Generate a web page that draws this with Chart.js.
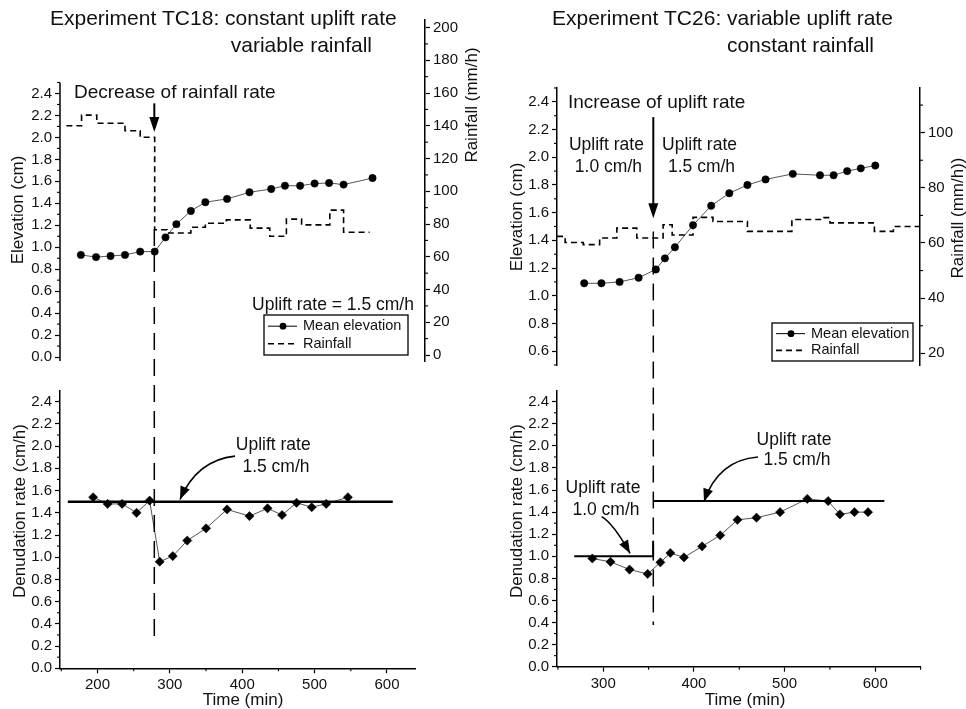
<!DOCTYPE html>
<html>
<head>
<meta charset="utf-8">
<script src="https://cdn.jsdelivr.net/npm/chart.js@4.4.1/dist/chart.umd.min.js"></script>
<style>
  body { margin: 0; background: #fff; width: 966px; height: 709px; overflow: hidden; position: relative; }
  canvas { position: absolute; left: 0; top: 0; }
</style>
</head>
<body>
<canvas id="tl" width="966" height="709"></canvas>
<canvas id="bl" width="966" height="709"></canvas>
<canvas id="tr" width="966" height="709"></canvas>
<canvas id="br" width="966" height="709"></canvas>
<script>
var FONT = '"Liberation Sans", Arial, Helvetica, sans-serif';

// Experiment TC18 : constant uplift, variable rainfall
var tc18Time = [177, 198, 218, 238, 259, 279, 294, 309, 329, 349, 379, 410, 440, 459, 480, 500, 520, 540, 580];
var tc18Elevation = [0.93, 0.91, 0.92, 0.93, 0.96, 0.96, 1.09, 1.21, 1.33, 1.41, 1.44, 1.50, 1.53, 1.56, 1.56, 1.58, 1.585, 1.57, 1.63];
var tc18RainTime = [157, 178, 199, 238, 259, 279, 296, 329, 349, 378, 411, 438, 461, 482, 521, 540, 576];
var tc18Rain = [140, 146.5, 141.5, 137, 133, 76.5, 74.5, 78, 80.5, 82.5, 77.5, 72.5, 83, 79.5, 88.5, 75, 75];
var tc18DenTime = [194, 214, 234, 254, 272, 286, 304, 324, 350, 379, 410, 435, 455, 475, 496, 516, 546];
var tc18Denudation = [1.54, 1.48, 1.48, 1.40, 1.51, 0.96, 1.01, 1.15, 1.26, 1.43, 1.37, 1.44, 1.38, 1.49, 1.45, 1.48, 1.54];
var tc18UpliftTime = [159, 608];
var tc18Uplift = [1.5, 1.5];
var tc18Event = 278.5;

// Experiment TC26 : variable uplift, constant rainfall
var tc26Time = [279, 298, 318, 339, 358, 368, 379, 399, 419, 439, 459, 479, 509, 539, 554, 569, 584, 600];
var tc26Elevation = [1.09, 1.09, 1.10, 1.13, 1.19, 1.27, 1.35, 1.51, 1.65, 1.74, 1.80, 1.84, 1.88, 1.87, 1.87, 1.90, 1.92, 1.94];
var tc26RainTime = [249, 258, 278, 296, 315, 337, 366, 376, 399, 421, 459, 508, 541, 550, 599, 620, 650];
var tc26Rain = [62.4, 60.2, 59.4, 61.8, 65.4, 61.8, 66.6, 62.9, 69.3, 67.8, 64.2, 68.5, 69.2, 67.3, 64.2, 66.0, 66.0];
var tc26DenTime = [288, 308, 329, 349, 363, 374, 389, 409, 429, 448, 469, 495, 525, 548, 561, 577, 592];
var tc26Denudation = [0.98, 0.95, 0.88, 0.84, 0.945, 1.03, 0.99, 1.09, 1.19, 1.33, 1.35, 1.40, 1.52, 1.50, 1.38, 1.40, 1.40];
var tc26LowTime = [268, 355, 355];
var tc26Low = [1.0, 1.0, 1.14];
var tc26HighTime = [355, 610];
var tc26High = [1.5, 1.5];
var tc26Event = 355.2;

// tick labels
var elevTicks = [0, 0.2, 0.4, 0.6, 0.8, 1.0, 1.2, 1.4, 1.6, 1.8, 2.0, 2.2, 2.4];
var elevTicks26 = [0.6, 0.8, 1.0, 1.2, 1.4, 1.6, 1.8, 2.0, 2.2, 2.4];
var rainTicks18 = [0, 20, 40, 60, 80, 100, 120, 140, 160, 180, 200];
var rainTicks26 = [20, 40, 60, 80, 100];
var timeTicks18 = [200, 300, 400, 500, 600];
var timeTicks26 = [300, 400, 500, 600];

Chart.defaults.font.family = FONT;
Chart.defaults.color = '#111';

var AXW = 44;  // room kept for a vertical axis
var AXH = 28;  // room kept for a horizontal axis

function pts(xs, ys) {
  return xs.map(function (x, i) { return {x: x, y: ys[i]}; });
}

function axis(pos, min, max, major, digits, border) {
  return {
    type: 'linear', position: pos, min: min, max: max,
    afterBuildTicks: function (s) { s.ticks = major.map(function (v) { return {value: v}; }); },
    afterFit: function (s) {
      if (s.isHorizontal()) s.height = AXH; else s.width = AXW;
      s.paddingTop = s.paddingBottom = s.paddingLeft = s.paddingRight = 0;
    },
    border: {display: border, color: '#000', width: 1.5},
    grid: {drawOnChartArea: false, drawTicks: true, tickLength: 5, tickColor: '#000', tickWidth: 1.2},
    ticks: {padding: 3, color: '#111', font: {size: 15}, maxRotation: 0, autoSkip: false,
      callback: function (v) { return v.toFixed(digits); }}
  };
}

// area = [left, top, right, bottom] of the plotting box on the page
function opts(area, scales) {
  var pad = {left: area[0], top: area[1], right: 966 - area[2], bottom: 709 - area[3]};
  Object.keys(scales).forEach(function (k) {
    var s = scales[k];
    if (s.display === false) return;
    if (s.position === 'left') pad.left -= AXW;
    if (s.position === 'right') pad.right -= AXW;
    if (s.position === 'bottom') pad.bottom -= AXH;
  });
  return {
    responsive: false, animation: false, devicePixelRatio: 1,
    layout: {padding: pad},
    plugins: {legend: {display: false}, tooltip: {enabled: false}},
    scales: scales
  };
}

var elevStyle = {borderColor: '#555', borderWidth: 1, pointRadius: 3.7, pointBackgroundColor: '#000',
  pointBorderColor: '#000', pointBorderWidth: 0.5, tension: 0};
var denStyle = {borderColor: '#555', borderWidth: 1, pointStyle: 'rectRot', pointRadius: 4.6,
  pointBackgroundColor: '#000', pointBorderColor: '#000', pointBorderWidth: 0.5, tension: 0};
var rainStyle = {borderColor: '#000', borderWidth: 1.6, borderDash: [6, 4], pointRadius: 0, stepped: true};
var upliftStyle = {borderColor: '#000', borderWidth: 2.5, pointRadius: 0};

// drawing helpers
function txt(ctx, s, x, y, size, align, rot) {
  ctx.save();
  ctx.font = size + 'px ' + FONT;
  ctx.fillStyle = '#111';
  ctx.textAlign = align || 'center';
  ctx.textBaseline = 'middle';
  ctx.translate(x, y);
  if (rot) ctx.rotate(rot);
  ctx.fillText(s, 0, 0);
  ctx.restore();
}

function head(ctx, x, y, ang, len, half) {
  var c = Math.cos(ang), s = Math.sin(ang);
  ctx.beginPath();
  ctx.moveTo(x, y);
  ctx.lineTo(x - len * c + half * s, y - len * s - half * c);
  ctx.lineTo(x - len * c - half * s, y - len * s + half * c);
  ctx.closePath();
  ctx.fill();
}

function curvedArrow(ctx, sx, sy, cx, cy, tx, ty) {
  ctx.save();
  ctx.strokeStyle = '#000'; ctx.fillStyle = '#000'; ctx.lineWidth = 1.6;
  ctx.beginPath(); ctx.moveTo(sx, sy); ctx.quadraticCurveTo(cx, cy, tx, ty); ctx.stroke();
  head(ctx, tx, ty, Math.atan2(ty - cy, tx - cx), 13, 5);
  ctx.restore();
}

function downArrow(ctx, x, y1, y2) {
  ctx.save();
  ctx.strokeStyle = '#000'; ctx.fillStyle = '#000'; ctx.lineWidth = 2;
  ctx.beginPath(); ctx.moveTo(x, y1); ctx.lineTo(x, y2 - 10); ctx.stroke();
  head(ctx, x, y2, Math.PI / 2, 15, 5);
  ctx.restore();
}

function minor(ctx, s, values, dir, len) {
  ctx.save();
  ctx.strokeStyle = '#000'; ctx.lineWidth = 1.1;
  values.forEach(function (v) {
    ctx.beginPath();
    if (s.isHorizontal()) {
      var px = s.getPixelForValue(v);
      ctx.moveTo(px, s.top); ctx.lineTo(px, s.top + len);
    } else {
      var py = s.getPixelForValue(v);
      var x0 = dir < 0 ? s.right : s.left;
      ctx.moveTo(x0, py); ctx.lineTo(x0 + dir * len, py);
    }
    ctx.stroke();
  });
  ctx.restore();
}

function legendBox(ctx, x1, y1, x2, y2) {
  ctx.save();
  ctx.strokeStyle = '#000'; ctx.lineWidth = 1.3;
  ctx.strokeRect(x1, y1, x2 - x1, y2 - y1);
  var ya = y1 + (y2 - y1) * 0.28, yb = y1 + (y2 - y1) * 0.72;
  ctx.lineWidth = 1;
  ctx.beginPath(); ctx.moveTo(x1 + 4, ya); ctx.lineTo(x1 + 33, ya); ctx.stroke();
  ctx.fillStyle = '#000';
  ctx.beginPath(); ctx.arc(x1 + 19, ya, 3.4, 0, Math.PI * 2); ctx.fill();
  ctx.lineWidth = 1.6; ctx.setLineDash([6, 4]);
  ctx.beginPath(); ctx.moveTo(x1 + 4, yb); ctx.lineTo(x1 + 33, yb); ctx.stroke();
  ctx.restore();
  txt(ctx, 'Mean elevation', x1 + 39, ya, 14.5, 'left');
  txt(ctx, 'Rainfall', x1 + 39, yb, 14.5, 'left');
}

function eventLine(ctx, x, y1, y2) {
  ctx.save();
  ctx.strokeStyle = '#000'; ctx.lineWidth = 1.5; ctx.setLineDash([17, 9]);
  ctx.beginPath(); ctx.moveTo(x, y1); ctx.lineTo(x, y2); ctx.stroke();
  ctx.restore();
}

var minorElev = [0.1, 0.3, 0.5, 0.7, 0.9, 1.1, 1.3, 1.5, 1.7, 1.9, 2.1, 2.3];

// ---------- TC18 top ----------
var chartTL = new Chart(document.getElementById('tl'), {
  type: 'line',
  data: {datasets: [
    Object.assign({label: 'Rainfall', data: pts(tc18RainTime, tc18Rain), yAxisID: 'y2'}, rainStyle),
    Object.assign({label: 'Mean elevation', data: pts(tc18Time, tc18Elevation), yAxisID: 'y'}, elevStyle)
  ]},
  options: opts([60, 20, 425, 361], {
    x: {type: 'linear', display: false, min: 148.2, max: 652.5},
    y: axis('left', -0.036, 3.069, elevTicks, 1, false),
    y2: axis('right', -3.66, 204.6, rainTicks18, 0, true)
  }),
  plugins: [{
    id: 'tlDeco',
    afterDraw: function (c) {
      var ctx = c.ctx, x = c.scales.x, y = c.scales.y, a = c.chartArea;
      ctx.save(); ctx.strokeStyle = '#000'; ctx.lineWidth = 1.5;
      ctx.beginPath(); ctx.moveTo(a.left, y.getPixelForValue(2.5)); ctx.lineTo(a.left, a.bottom); ctx.stroke();
      ctx.restore();
      minor(ctx, y, minorElev.concat([2.5]), -1, 3);
      minor(ctx, c.scales.y2, [10, 30, 50, 70, 90, 110, 130, 150, 170, 190], 1, 3);
      txt(ctx, 'Experiment TC18: constant uplift rate', 50, 19, 21, 'left');
      txt(ctx, 'variable rainfall', 372, 46, 21, 'right');
      txt(ctx, 'Elevation (cm)', 18, 210, 17, 'center', -Math.PI / 2);
      txt(ctx, 'Rainfall (mm/h)', 472, 105, 17, 'center', -Math.PI / 2);
      txt(ctx, 'Decrease of rainfall rate', x.getPixelForValue(167.5), y.getPixelForValue(2.41), 19, 'left');
      downArrow(ctx, x.getPixelForValue(tc18Event), y.getPixelForValue(2.31), y.getPixelForValue(2.05));
      txt(ctx, 'Uplift rate = 1.5 cm/h', x.getPixelForValue(413.5), y.getPixelForValue(0.474), 17.5, 'left');
      legendBox(ctx, 264, 315, 408, 355);
    }
  }]
});

// ---------- TC18 bottom ----------
var chartBL = new Chart(document.getElementById('bl'), {
  type: 'line',
  data: {datasets: [
    Object.assign({label: 'Uplift rate', data: pts(tc18UpliftTime, tc18Uplift)}, upliftStyle),
    Object.assign({label: 'Denudation rate', data: pts(tc18DenTime, tc18Denudation)}, denStyle)
  ]},
  options: opts([60, 390.6, 415, 668.3], {
    x: axis('bottom', 148.2, 638.7, timeTicks18, 0, true),
    y: axis('left', 0, 2.5, elevTicks, 1, true)
  }),
  plugins: [{
    id: 'blDeco',
    afterDraw: function (c) {
      var ctx = c.ctx, x = c.scales.x, y = c.scales.y;
      minor(ctx, y, minorElev, -1, 3);
      minor(ctx, x, [150, 250, 350, 450, 550], 1, 3);
      txt(ctx, 'Denudation rate (cm/h)', 20, 511, 17, 'center', -Math.PI / 2);
      txt(ctx, 'Time (min)', 243, 700, 17, 'center');
      eventLine(ctx, x.getPixelForValue(tc18Event), chartTL.scales.y.getPixelForValue(1.166), y.getPixelForValue(0.28));
      txt(ctx, 'Uplift rate', x.getPixelForValue(442.8), y.getPixelForValue(2.01), 17.5);
      txt(ctx, '1.5 cm/h', x.getPixelForValue(446.6), y.getPixelForValue(1.81), 17.5);
      curvedArrow(ctx, x.getPixelForValue(390), y.getPixelForValue(1.91),
        x.getPixelForValue(337.5), y.getPixelForValue(1.875),
        x.getPixelForValue(314), y.getPixelForValue(1.52));
    }
  }]
});

// ---------- TC26 top ----------
var chartTR = new Chart(document.getElementById('tr'), {
  type: 'line',
  data: {datasets: [
    Object.assign({label: 'Rainfall', data: pts(tc26RainTime, tc26Rain), yAxisID: 'y2'}, rainStyle),
    Object.assign({label: 'Mean elevation', data: pts(tc26Time, tc26Elevation), yAxisID: 'y'}, elevStyle)
  ]},
  options: opts([557, 88, 920, 365], {
    x: {type: 'linear', display: false, min: 249, max: 649.3},
    y: axis('left', 0.5, 2.5, elevTicks26, 1, true),
    y2: axis('right', 15.76, 116.2, rainTicks26, 0, true)
  }),
  plugins: [{
    id: 'trDeco',
    afterDraw: function (c) {
      var ctx = c.ctx, x = c.scales.x, y = c.scales.y;
      minor(ctx, y, [0.5, 0.7, 0.9, 1.1, 1.3, 1.5, 1.7, 1.9, 2.1, 2.3, 2.5], -1, 3);
      minor(ctx, c.scales.y2, [30, 50, 70, 90, 110], 1, 3);
      txt(ctx, 'Experiment TC26: variable uplift rate', 552, 19, 21, 'left');
      txt(ctx, 'constant rainfall', 874, 46, 21, 'right');
      txt(ctx, 'Elevation (cm)', 517, 217, 17, 'center', -Math.PI / 2);
      txt(ctx, 'Rainfall (mm/h))', 958, 218, 17, 'center', -Math.PI / 2);
      txt(ctx, 'Increase of uplift rate', x.getPixelForValue(261), y.getPixelForValue(2.39), 19, 'left');
      downArrow(ctx, x.getPixelForValue(tc26Event), y.getPixelForValue(2.29), y.getPixelForValue(1.56));
      txt(ctx, 'Uplift rate', x.getPixelForValue(303.5), y.getPixelForValue(2.087), 17.5);
      txt(ctx, '1.0 cm/h', x.getPixelForValue(305.7), y.getPixelForValue(1.928), 17.5);
      txt(ctx, 'Uplift rate', x.getPixelForValue(406.2), y.getPixelForValue(2.087), 17.5);
      txt(ctx, '1.5 cm/h', x.getPixelForValue(408.4), y.getPixelForValue(1.928), 17.5);
      legendBox(ctx, 772, 323, 913, 361);
    }
  }]
});

// ---------- TC26 bottom ----------
var chartBR = new Chart(document.getElementById('br'), {
  type: 'line',
  data: {datasets: [
    Object.assign({label: 'Uplift rate 1.0', data: pts(tc26LowTime, tc26Low)}, upliftStyle, {borderWidth: 2}),
    Object.assign({label: 'Uplift rate 1.5', data: pts(tc26HighTime, tc26High)}, upliftStyle, {borderWidth: 2}),
    Object.assign({label: 'Denudation rate', data: pts(tc26DenTime, tc26Denudation)}, denStyle)
  ]},
  options: opts([557, 390.7, 920, 666.7], {
    x: axis('bottom', 249, 649.3, timeTicks26, 0, true),
    y: axis('left', 0, 2.5, elevTicks, 1, true)
  }),
  plugins: [{
    id: 'brDeco',
    afterDraw: function (c) {
      var ctx = c.ctx, x = c.scales.x, y = c.scales.y;
      minor(ctx, y, minorElev, -1, 3);
      minor(ctx, x, [250, 350, 450, 550, 650], 1, 3);
      txt(ctx, 'Denudation rate (cm/h)', 517, 511, 17, 'center', -Math.PI / 2);
      txt(ctx, 'Time (min)', 745, 700, 17, 'center');
      eventLine(ctx, x.getPixelForValue(tc26Event), chartTR.scales.y.getPixelForValue(1.464), y.getPixelForValue(0.378));
      txt(ctx, 'Uplift rate', x.getPixelForValue(510.3), y.getPixelForValue(2.053), 17.5);
      txt(ctx, '1.5 cm/h', x.getPixelForValue(513.6), y.getPixelForValue(1.872), 17.5);
      curvedArrow(ctx, x.getPixelForValue(470.6), y.getPixelForValue(1.90),
        x.getPixelForValue(426.6), y.getPixelForValue(1.872),
        x.getPixelForValue(411.1), y.getPixelForValue(1.495));
      txt(ctx, 'Uplift rate', x.getPixelForValue(299.7), y.getPixelForValue(1.619), 17.5);
      txt(ctx, '1.0 cm/h', x.getPixelForValue(303), y.getPixelForValue(1.419), 17.5);
      curvedArrow(ctx, x.getPixelForValue(298.2), y.getPixelForValue(1.359),
        x.getPixelForValue(311), y.getPixelForValue(1.299),
        x.getPixelForValue(329.5), y.getPixelForValue(1.027));
    }
  }]
});
</script>
</body>
</html>
